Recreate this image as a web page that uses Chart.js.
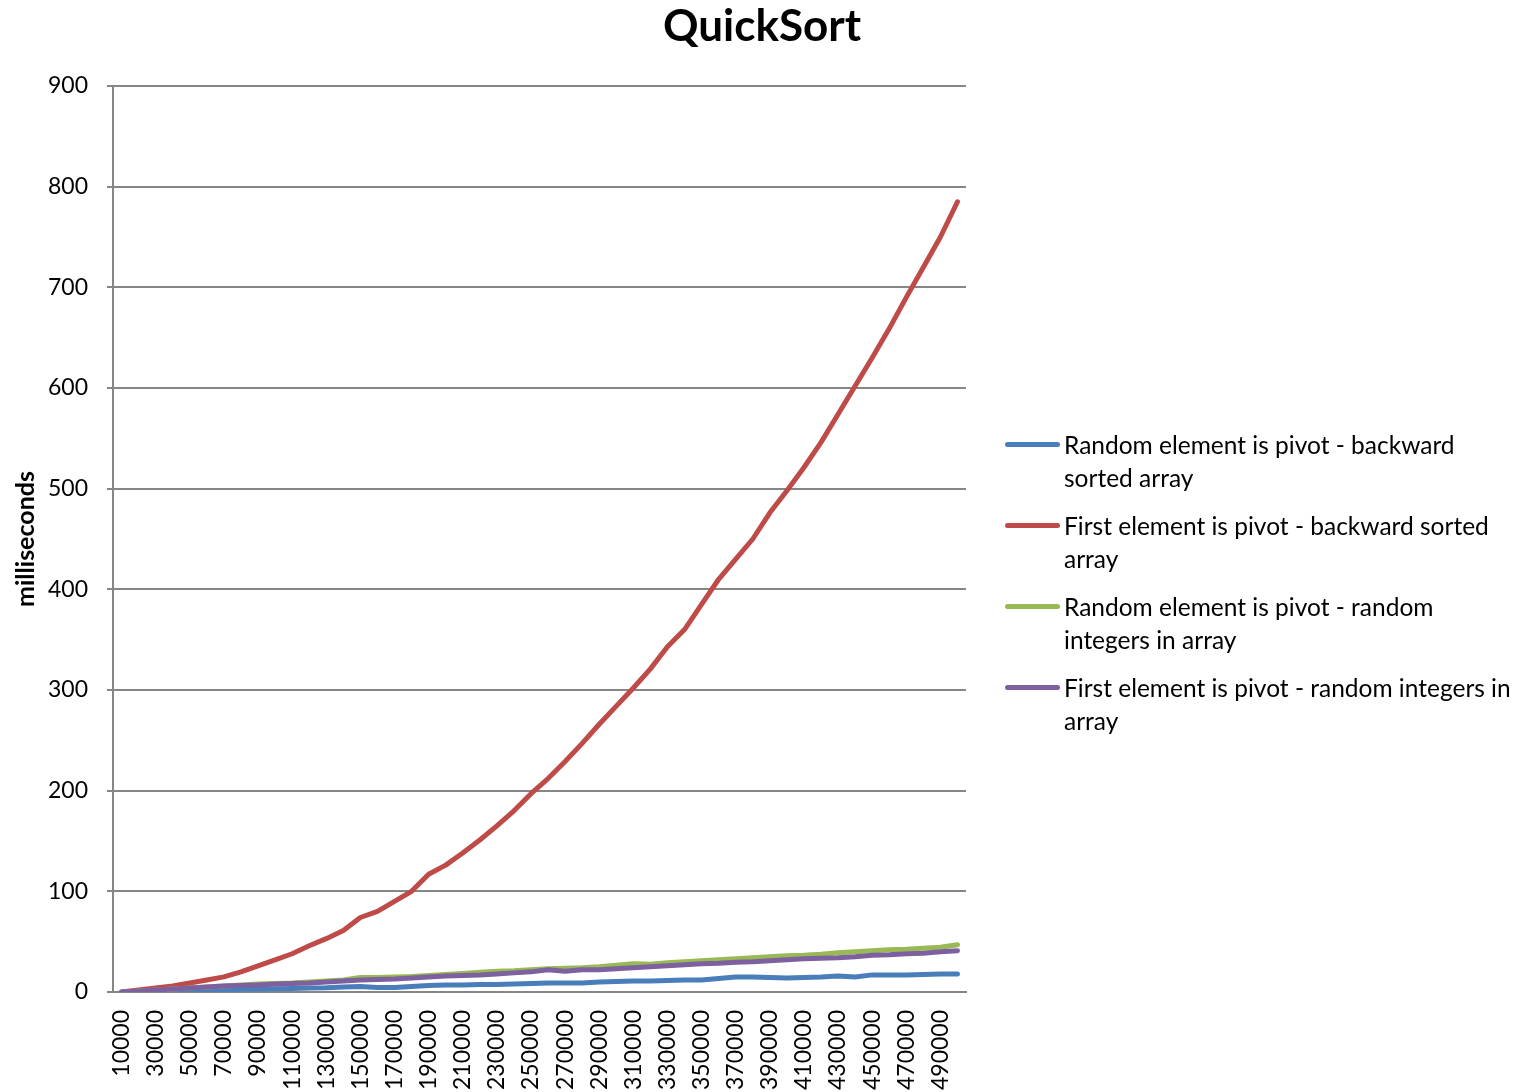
<!DOCTYPE html>
<html>
<head>
<meta charset="utf-8">
<title>QuickSort</title>
<script src="https://cdn.jsdelivr.net/npm/chart.js@4.4.1/dist/chart.umd.min.js"></script>
<style>
    body { margin: 0; background: #fff; }
    #wrap { position: relative; width: 1524px; height: 1092px; }
    #legend {
        position: absolute; left: 1005px; top: 428px; width: 519px;
        font-family: Lato, sans-serif; font-size: 24.5px; line-height: 33px; color: #000;
    }
    .item { position: relative; padding-left: 59px; margin-bottom: 15px; white-space: nowrap; }
    .swatch { position: absolute; left: 0; top: 14px; width: 55px; height: 5px; border-radius: 3px; }
</style>
</head>
<body>
<div id="wrap">
    <canvas id="chart" width="1524" height="1092"></canvas>
    <div id="legend"></div>
</div>
<script>
// Dimensione dell'array (numero di elementi)
const sizes = ['10000', '20000', '30000', '40000', '50000', '60000', '70000', '80000', '90000', '100000',
    '110000', '120000', '130000', '140000', '150000', '160000', '170000', '180000', '190000', '200000',
    '210000', '220000', '230000', '240000', '250000', '260000', '270000', '280000', '290000', '300000',
    '310000', '320000', '330000', '340000', '350000', '360000', '370000', '380000', '390000', '400000',
    '410000', '420000', '430000', '440000', '450000', '460000', '470000', '480000', '490000', '500000'];

// Tempi in millisecondi per ogni serie
const randomPivotBackward = [0, 0.3, 0.7, 1, 1.5, 2, 2.3, 2.7, 3, 3.3, 3.6, 4, 4.3, 5, 5.5, 4.5, 4.5, 5.5, 6.5, 7,
    7, 7.5, 7.5, 8, 8.5, 9, 9, 9, 10, 10.5, 11, 11, 11.5, 12, 12, 13.5, 15, 15, 14.5, 14,
    14.5, 15, 16, 15, 17, 17, 17, 17.5, 18, 18];
const firstPivotBackward = [0, 2, 4, 6, 9, 12, 15, 20, 26, 32, 38, 46, 53, 61, 74, 80, 90, 100, 117, 126,
    138, 151, 165, 180, 197, 212, 229, 247, 266, 284, 302, 321, 343, 360, 385, 410, 430, 450, 476, 498,
    521, 546, 574, 602, 630, 659, 690, 720, 750, 785];
const randomPivotRandom = [0, 1, 2, 3, 4, 5, 6, 7, 8, 8.5, 9, 10, 11, 12, 14.5, 14.5, 15, 15.5, 16.5, 17.5,
    18.5, 19.5, 20.5, 21, 22, 23, 23.5, 24, 25, 26.5, 28, 27.5, 29, 30, 31, 32, 33, 34, 35, 36,
    36.5, 37.5, 39, 40, 41, 42, 42.5, 43.5, 44.5, 47];
const firstPivotRandom = [0, 1, 2, 3, 4, 5, 6, 6.5, 7, 8, 8.5, 9, 10, 11, 12, 12.5, 13, 14, 15, 16,
    16.5, 17, 18, 19, 20, 22, 20.5, 22, 22, 23, 24, 25, 26, 27, 28, 28.5, 29.5, 30, 31, 32,
    33, 33.5, 34, 35, 36.5, 37, 38, 38.5, 40, 41];

// Etichette della legenda, gia' spezzate su due righe
const seriesNames = [
    ['Random element is pivot - backward', 'sorted array'],
    ['First element is pivot - backward sorted', 'array'],
    ['Random element is pivot - random', 'integers in array'],
    ['First element is pivot - random integers in', 'array']
];
const seriesColors = ['#4a7ebb', '#be4b48', '#98b954', '#7d60a0'];
const seriesValues = [randomPivotBackward, firstPivotBackward, randomPivotRandom, firstPivotRandom];

const fontFamily = 'Lato, sans-serif';
const gridColor = '#868686';

const datasets = seriesValues.map((values, i) => ({
    label: seriesNames[i].join(' '),
    data: values,
    borderColor: seriesColors[i],
    backgroundColor: seriesColors[i],
    borderWidth: 5,
    borderCapStyle: 'round',
    borderJoinStyle: 'round',
    pointRadius: 0,
    tension: 0,
    fill: false,
    order: seriesValues.length - i // l'ultima serie sta sopra
}));

new Chart(document.getElementById('chart').getContext('2d'), {
    type: 'line',
    data: { labels: sizes, datasets: datasets },
    options: {
        responsive: false,
        animation: false,
        layout: { padding: 0 },
        plugins: {
            legend: { display: false },
            tooltip: { enabled: false },
            title: {
                display: true,
                text: 'QuickSort',
                color: '#000',
                font: { family: fontFamily, size: 44, weight: 'bold' },
                padding: { top: 0, bottom: 33.2 }
            }
        },
        scales: {
            x: {
                offset: true,
                grid: { display: false },
                border: { color: gridColor, width: 2 },
                ticks: {
                    autoSkip: false,
                    minRotation: 90,
                    maxRotation: 90,
                    padding: 10,
                    color: '#000',
                    font: { family: fontFamily, size: 23 },
                    callback: function(value, index) {
                        return index % 2 === 0 ? this.getLabelForValue(value) : '';
                    }
                },
                afterFit: function(scale) { scale.height = 100; }
            },
            y: {
                min: 0,
                max: 900,
                grid: { color: gridColor, lineWidth: 2, tickLength: 6 },
                border: { color: gridColor, width: 2 },
                ticks: {
                    stepSize: 100,
                    padding: 19,
                    color: '#000',
                    font: { family: fontFamily, size: 23 }
                },
                title: {
                    display: true,
                    text: 'milliseconds',
                    color: '#000',
                    font: { family: fontFamily, size: 25, weight: 'bold' },
                    padding: { top: 11, bottom: 0 }
                },
                afterFit: function(scale) { scale.width = 113; }
            },
            // asse vuoto: lascia lo spazio a destra per la legenda
            spacer: {
                type: 'linear',
                axis: 'y',
                position: 'right',
                grid: { display: false, drawTicks: false },
                border: { display: false },
                ticks: { display: false },
                afterFit: function(scale) { scale.width = 558; }
            }
        }
    }
});

// Legenda HTML con righe a capo come nel grafico originale
const legendBox = document.getElementById('legend');
seriesNames.forEach((lines, i) => {
    const item = document.createElement('div');
    item.className = 'item';
    item.innerHTML = `<span class="swatch" style="background:${seriesColors[i]}"></span>${lines.join('<br>')}`;
    legendBox.appendChild(item);
});
</script>
</body>
</html>
